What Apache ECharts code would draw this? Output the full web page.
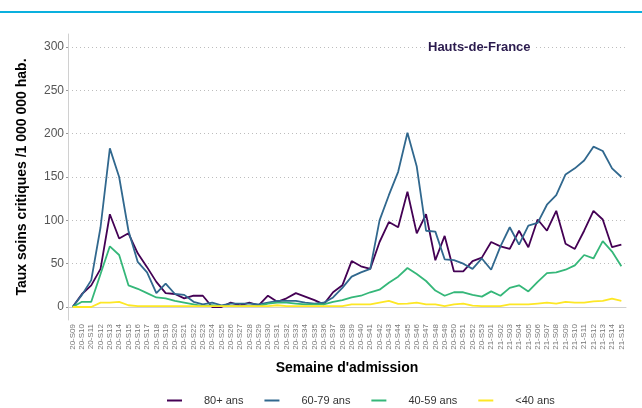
<!DOCTYPE html>
<html>
<head>
<meta charset="utf-8">
<title>Hauts-de-France</title>
<script src="https://cdn.jsdelivr.net/npm/echarts@6/dist/echarts.min.js"></script>
<style>
    html, body { margin: 0; padding: 0; background: #fff; }
    #chart { width: 642px; height: 408px; }
</style>
</head>
<body>
<div id="chart"></div>
<script>
// semaines d'admission
var semaines = [
    '20-S09','20-S10','20-S11','20-S12','20-S13','20-S14','20-S15','20-S16','20-S17','20-S18',
    '20-S19','20-S20','20-S21','20-S22','20-S23','20-S24','20-S25','20-S26','20-S27','20-S28',
    '20-S29','20-S30','20-S31','20-S32','20-S33','20-S34','20-S35','20-S36','20-S37','20-S38',
    '20-S39','20-S40','20-S41','20-S42','20-S43','20-S44','20-S45','20-S46','20-S47','20-S48',
    '20-S49','20-S50','20-S51','20-S52','20-S53','21-S01','21-S02','21-S03','21-S04','21-S05',
    '21-S06','21-S07','21-S08','21-S09','21-S10','21-S11','21-S12','21-S13','21-S14','21-S15'
];

// taux par classe d'age
var ans80 = [
    0, 15, 25, 44, 107, 79, 85, 62, 46, 29,
    16, 15, 10, 13, 13, 0, 0, 5, 2, 5,
    2, 13, 6, 10, 16, 12, 8, 3, 17, 25,
    53, 47, 44, 75, 98, 92, 133, 85, 107, 54,
    82, 41, 41, 53, 57, 75, 70, 67, 88, 69,
    101, 88, 111, 73, 67, 88, 111, 101, 69, 72
];
var ans6079 = [
    0, 14, 31, 92, 183, 150, 88, 52, 40, 16,
    27, 15, 14, 6, 3, 5, 2, 4, 4, 4,
    3, 5, 7, 7, 7, 5, 4, 5, 11, 22,
    35, 40, 44, 100, 129, 156, 201, 162, 88, 87,
    55, 54, 50, 44, 56, 43, 70, 92, 72, 94,
    97, 118, 129, 153, 160, 169, 185, 180, 160, 150
];
var ans4059 = [
    0, 6, 6, 38, 70, 60, 25, 21, 16, 11,
    10, 7, 5, 3, 1, 2, 1, 1, 1, 1,
    1, 4, 5, 5, 4, 3, 3, 3, 6, 8,
    11, 13, 17, 20, 28, 35, 45, 38, 30, 19,
    13, 17, 17, 14, 12, 18, 13, 22, 25, 18,
    29, 39, 40, 43, 48, 60, 56, 76, 64, 47
];
var ans40 = [
    0, 0, 0, 5, 5, 6, 2, 1, 1, 1,
    1, 1, 1, 1, 1, 1, 1, 1, 1, 1,
    1, 1, 2, 1, 1, 1, 1, 1, 1, 1,
    3, 3, 3, 5, 7, 3.5, 4, 5, 3, 3,
    1, 3, 4, 1.5, 1, 1, 1, 3, 3, 3,
    4, 5, 4, 6, 5, 5, 6.5, 7, 9.6, 7
];

var yTicks = [0, 50, 100, 150, 200, 250, 300];

var couleurs = ['#440154', '#31688e', '#35b779', '#fde725'];
var police = 'Liberation Sans, Arial, sans-serif';

function serie(nom, data, i) {
    return {
        name: nom,
        type: 'line',
        data: data,
        symbol: 'none',
        lineStyle: { width: 1.8, color: couleurs[i] },
        itemStyle: { color: couleurs[i] }
    };
}

var myChart = echarts.init(document.getElementById('chart'));
var option = {
    animation: false,
    textStyle: { fontFamily: police },
    title: {
        text: 'Hauts-de-France',
        left: 425,
        top: 40,
        padding: [0, 3],
        backgroundColor: '#fff',
        textStyle: { fontSize: 13, fontWeight: 'bold', color: '#2b1b4e', fontFamily: police, lineHeight: 14 }
    },
    graphic: [{
        // bandeau bleu en haut
        type: 'rect',
        shape: { x: 0, y: 11, width: 642, height: 2 },
        style: { fill: '#0ab0de' }
    }],
    legend: {
        data: ['80+ ans', '60-79 ans', '40-59 ans', '<40 ans'],
        left: 162,
        top: 390,
        icon: 'rect',
        itemWidth: 15,
        itemHeight: 2,
        itemGap: 21,
        textStyle: { fontSize: 11, color: '#333', padding: [0, 0, 0, 17] }
    },
    grid: { left: 68, right: 16, top: 34, bottom: 88 },
    xAxis: {
        type: 'category',
        data: semaines,
        boundaryGap: true,
        name: "Semaine d'admission",
        nameLocation: 'middle',
        nameGap: 41,
        nameTextStyle: { fontSize: 14, fontWeight: 'bold', color: '#000' },
        axisLine: { lineStyle: { color: '#d0d0d0' } },
        axisTick: { alignWithLabel: true, length: 2, lineStyle: { color: '#999' } },
        axisLabel: { rotate: 90, fontSize: 8, color: '#777', margin: 4, interval: 0 },
        splitLine: { show: false }
    },
    yAxis: {
        type: 'value',
        min: -15,
        max: 315,
        name: 'Taux soins critiques /1 000 000 hab.',
        nameLocation: 'middle',
        nameGap: 39,
        nameTextStyle: { fontSize: 14, fontWeight: 'bold', color: '#000' },
        axisLine: { show: true, lineStyle: { color: '#d0d0d0' } },
        axisTick: { show: true, length: 2, customValues: yTicks, lineStyle: { color: '#999' } },
        axisLabel: { customValues: yTicks, fontSize: 12, color: '#555', margin: 4 },
        splitLine: { show: true, lineStyle: { color: '#bdbdbd', type: [1, 3], width: 1 } }
    },
    series: [
        serie('80+ ans', ans80, 0),
        serie('60-79 ans', ans6079, 1),
        serie('40-59 ans', ans4059, 2),
        serie('<40 ans', ans40, 3)
    ]
};

myChart.setOption(option);
window.onresize = function () {
    myChart.resize();
};
</script>
</body>
</html>
